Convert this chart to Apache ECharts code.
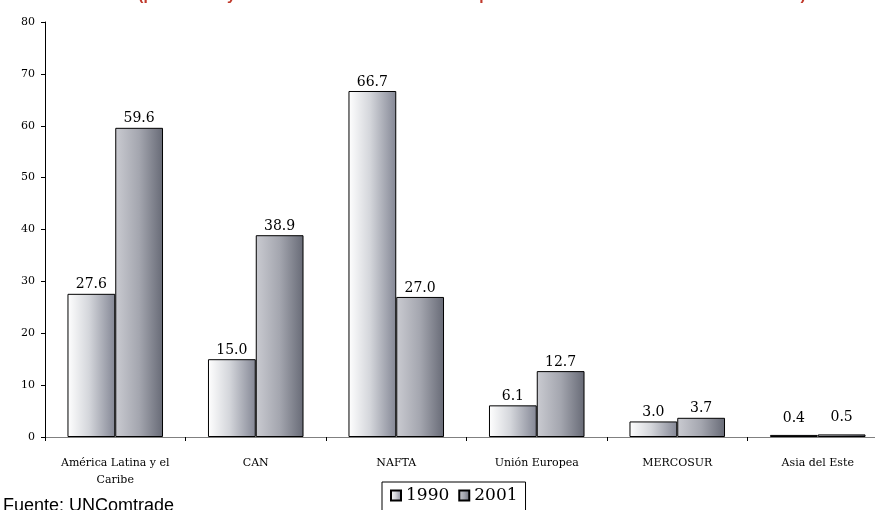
<!DOCTYPE html>
<html>
<head>
<meta charset="utf-8">
<script src="https://cdn.jsdelivr.net/npm/echarts@6/dist/echarts.min.js"></script>
<style>
  html, body { margin: 0; padding: 0; background: #ffffff; overflow: hidden; }
  /* the plot runs a little past the right edge of the window */
  #chart { width: 890px; height: 510px; }
</style>
</head>
<body>
<div id="chart"></div>
<script>
// Bloques comerciales y su participación (%) en 1990 y 2001
const categories = ['América Latina y el\nCaribe', 'CAN', 'NAFTA', 'Unión Europea', 'MERCOSUR', 'Asia del Este'];
const values1990 = [27.6, 15.0, 66.7, 6.1, 3.0, 0.4];
const values2001 = [59.6, 38.9, 27.0, 12.7, 3.7, 0.5];
const seriesNames = ['1990', '2001'];
const yTicks = [0, 10, 20, 30, 40, 50, 60, 70, 80];

const serif = '"DejaVu Serif", "Liberation Serif", serif';
const sans = '"Liberation Sans", Arial, sans-serif';

function hGrad(stops) {
  return new echarts.graphic.LinearGradient(0, 0, 1, 0,
    stops.map(s => ({ offset: s[0], color: s[1] })));
}
const fill1990 = hGrad([[0, '#ffffff'], [0.45, '#d4d6db'], [1, '#848795']]);
const fill2001 = hGrad([[0, '#cacbd1'], [0.5, '#a4a6af'], [1, '#676a76']]);

// tiny bars get their value label lifted a little higher
function withLabels(vals) {
  return vals.map(v => ({
    value: v,
    label: { distance: v < 1 ? 10 : 2 }
  }));
}

const chart = echarts.init(document.getElementById('chart'), null, { renderer: 'canvas' });

chart.setOption({
  animation: false,
  backgroundColor: '#ffffff',
  title: {
    text: '(promedios y comercio intracomunidad como peso relativo en el total de ventas al mundo)',
    left: 472,
    textAlign: 'center',
    top: -12.5,
    padding: 0,
    textStyle: { color: '#c0392b', fontSize: 15.5, fontWeight: 'bold', fontFamily: sans }
  },
  grid: { left: 45, right: 2, top: 22, bottom: 73, containLabel: false },
  legend: {
    data: seriesNames,
    left: 382,
    top: 482,
    orient: 'horizontal',
    itemWidth: 10,
    itemHeight: 10,
    itemGap: 9,
    padding: [5, 8, 10, 8],
    borderColor: '#000000',
    borderWidth: 1,
    icon: 'rect',
    textStyle: { fontFamily: serif, fontSize: 17, color: '#000000' }
  },
  xAxis: {
    type: 'category',
    data: categories,
    axisLine: { lineStyle: { color: '#808080', width: 1 } },
    axisTick: { show: true, alignWithLabel: false, length: 4, lineStyle: { color: '#000000' } },
    axisLabel: {
      fontFamily: serif, fontSize: 11, color: '#000000',
      margin: 18, lineHeight: 17, interval: 0
    },
    splitLine: { show: false }
  },
  yAxis: {
    type: 'value',
    min: 0,
    max: 80,
    interval: 10,
    axisLine: { show: true, lineStyle: { color: '#000000', width: 1 } },
    axisTick: { show: true, length: 4, lineStyle: { color: '#000000' } },
    axisLabel: {
      fontFamily: serif, fontSize: 11, color: '#000000', margin: 10,
      formatter: v => (yTicks.includes(v) ? String(v) : '')
    },
    splitLine: { show: false }
  },
  series: [
    {
      name: seriesNames[0],
      type: 'bar',
      data: withLabels(values1990),
      barGap: '0%',
      barCategoryGap: '32%',
      itemStyle: { color: fill1990, borderColor: '#000000', borderWidth: 1 },
      label: {
        show: true, position: 'top',
        fontFamily: serif, fontSize: 14, color: '#000000',
        formatter: p => p.value.toFixed(1)
      }
    },
    {
      name: seriesNames[1],
      type: 'bar',
      data: withLabels(values2001),
      barGap: '0%',
      barCategoryGap: '32%',
      itemStyle: { color: fill2001, borderColor: '#000000', borderWidth: 1 },
      label: {
        show: true, position: 'top',
        fontFamily: serif, fontSize: 14, color: '#000000',
        formatter: p => p.value.toFixed(1)
      }
    }
  ],
  graphic: [
    {
      type: 'text',
      left: 3,
      top: 497,
      style: {
        text: 'Fuente: UNComtrade',
        fontFamily: sans,
        fontSize: 18,
        fill: '#000000'
      }
    }
  ]
});
</script>
</body>
</html>
